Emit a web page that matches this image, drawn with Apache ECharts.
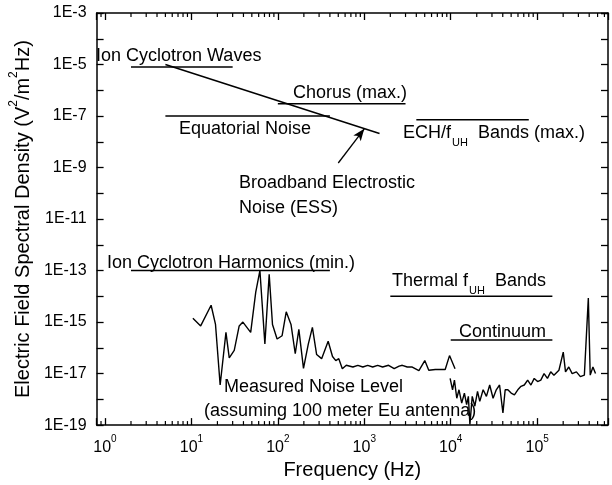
<!DOCTYPE html>
<html><head><meta charset="utf-8">
<script src="https://cdn.jsdelivr.net/npm/echarts@6/dist/echarts.min.js"></script>
<style>html,body{margin:0;padding:0;background:#fff}#c{width:612px;height:485px}</style>
</head><body><div id="c"></div>
<script>
// ---------- data ----------
const xTickExponents = [0, 1, 2, 3, 4, 5];
const yTickLabels = ['1E-3', '1E-5', '1E-7', '1E-9', '1E-11', '1E-13', '1E-15', '1E-17', '1E-19'];

const lowFreq = [10.4,12.8,16.9,19.0,21.5,25.1,27.4,31.3,35.7,39.4,48.5,55.5,62,70.8,79.4,86.7,98,112,125,142,159,175,198,225,251,281,321,382,429,468,507,557,619,738,843,962,1096,1250,1429,1629,1910,2218,2529,2754,3141,3589,4285,5012,5572,6637,8630,9683,11220];
const lowNoise = [1.4e-15,7.1e-16,4.5e-15,8.1e-16,3.6e-18,4.0e-16,4.1e-17,7.9e-17,7.1e-16,1.0e-15,4.0e-16,1.45e-14,1.0e-13,1.4e-16,7.1e-14,8.1e-16,2.2e-16,2.95e-16,2.5e-15,8.1e-16,5.9e-17,5.2e-16,1.6e-17,1.4e-16,6.2e-16,5.5e-17,3.8e-17,1.8e-16,4.6e-17,3.2e-17,3.8e-17,1.55e-17,2.1e-17,1.8e-17,2.1e-17,1.8e-17,2.1e-17,1.8e-17,2.1e-17,1.8e-17,2.1e-17,1.55e-17,1.95e-17,2.1e-17,1.8e-17,1.8e-17,1.3e-17,3.2e-17,1.35e-17,1.45e-17,1.45e-17,5.0e-17,1.55e-17];

const highFreq = [9840,10500,11040,11750,12470,13400,14390,15280,16000,16670,17740,19010,20420,21680,23710,25880,28250,30900,33650,36730,40180,42660,45810,50000,54580,59700,65010,70960,77620,84720,92470,101200,110200,120200,131500,143500,156300,178600,200400,212800,232300,254100,284400,316200,351600,370700,390800,411100,441600,473200];
const highNoise = [6.5e-18,2.35e-18,5.6e-18,1.1e-18,2.35e-18,7.2e-19,1.75e-18,6.2e-19,1.3e-18,1.07e-19,1.3e-18,5.4e-19,2.05e-18,8.3e-19,2.35e-18,1.3e-18,3.6e-18,1.1e-18,2.35e-18,3.6e-18,3.0e-19,2.35e-18,2.35e-18,1.75e-18,1.5e-18,2.35e-18,3.2e-18,3.6e-18,5.6e-18,3.6e-18,6.5e-18,4.9e-18,5.6e-18,1.0e-17,6.5e-18,1.17e-17,8.7e-18,1.35e-17,6.8e-17,1.17e-17,1.8e-17,1.0e-17,1.17e-17,7.6e-18,8.7e-18,8.7e-18,8.5e-15,8.7e-18,1.8e-17,1.0e-17];

// wave-band ranges (frequency start, end, spectral level)
const bandNames = ['Ion Cyclotron Waves', 'Chorus (max.)', 'Equatorial Noise', 'ECH/fUH Bands (max.)', 'Ion Cyclotron Harmonics (min.)', 'Thermal fUH Bands', 'Continuum'];
const bandStart = [2, 100, 5, 4000, 2, 2000, 10000];
const bandEnd = [30, 3000, 400, 80000, 400, 150000, 150000];
const bandLevel = [8e-6, 3e-7, 1e-7, 7.2e-8, 1e-13, 1e-14, 2e-16];

// broadband electrostatic noise line
const essFreq = [5, 1500];
const essLevel = [1e-5, 2.1e-8];
// arrow pointing at ESS
const arrowFreq = [500, 1000];
const arrowLevel = [1.5e-9, 3.2e-8];

// ---------- layout / style ----------
const FONT = "'Liberation Sans', Arial, Helvetica, sans-serif";
const xMin = 0.8, xMax = 6.6e5, yMin = 1e-19, yMax = 1e-3;
const BLACK = '#000';

const textLayout = [
  { text: '{n|Ion Cyclotron Waves}', x: 96, y: 47 },
  { text: '{n|Chorus (max.)}', x: 293, y: 84 },
  { text: '{n|Equatorial Noise}', x: 179, y: 120 },
  { text: '{n|ECH/f}{sub|UH}{n|  Bands (max.)}', x: 403, y: 124 },
  { text: '{n|Broadband Electrostic}', x: 239, y: 174 },
  { text: '{n|Noise (ESS)}', x: 239, y: 199 },
  { text: '{n|Ion Cyclotron Harmonics (min.)}', x: 107, y: 254 },
  { text: '{n|Thermal f}{sub|UH}{n|  Bands}', x: 392, y: 272 },
  { text: '{n|Continuum}', x: 459, y: 323 },
  { text: '{n|Measured Noise Level}', x: 224, y: 378 },
  { text: '{n|(assuming 100 meter Eu antenna)}', x: 204, y: 402 }
];
const annRich = {
  n: { fontFamily: FONT, fontSize: 18, fill: BLACK, verticalAlign: 'top' },
  sub: { fontFamily: FONT, fontSize: 11, fill: BLACK, verticalAlign: 'top', padding: [13, 0, 0, 1] }
};

// minor tick values (2..9 x decade) for the log frequency axis
const minorTickValues = [];
for (let e = -1; e <= 5; e++) {
  for (let m = 2; m <= 9; m++) {
    const v = m * Math.pow(10, e);
    if (v > xMin && v < xMax) minorTickValues.push(v);
  }
}

function isDecade(v) {
  const l = Math.log10(v);
  return Math.abs(l - Math.round(l)) < 1e-6;
}

const axisBase = {
  type: 'log', logBase: 10,
  axisLine: { show: true, onZero: false, lineStyle: { color: BLACK, width: 1.5 } },
  axisTick: { show: true, inside: true, length: 7, lineStyle: { color: BLACK, width: 1.3 } },
  splitLine: { show: false },
  minorTick: { show: false },
  minorSplitLine: { show: false }
};

const chart = echarts.init(document.getElementById('c'), null, { renderer: 'canvas' });

const bandSeries = bandNames.map((name, i) => ({
  type: 'line', name: name, xAxisIndex: 0, yAxisIndex: 0,
  data: [[bandStart[i], bandLevel[i]], [bandEnd[i], bandLevel[i]]],
  symbol: 'none', silent: true, animation: false,
  lineStyle: { color: BLACK, width: 1.5 }
}));

const option = {
  backgroundColor: '#fff',
  animation: false,
  grid: { left: 91, top: 13, width: 517, height: 419.5, containLabel: false },
  xAxis: [
    Object.assign({}, axisBase, {
      min: xMin, max: xMax, position: 'bottom',
      name: 'Frequency (Hz)', nameLocation: 'middle', nameGap: 31,
      nameTextStyle: { fontFamily: FONT, fontSize: 20, color: BLACK },
      axisLabel: {
        margin: 9, hideOverlap: false,
        formatter: function (v) {
          if (!isDecade(v)) return '';
          const e = Math.round(Math.log10(v));
          if (xTickExponents.indexOf(e) < 0) return '';
          return '{n|10}{s|' + e + '}';
        },
        rich: {
          n: { fontFamily: FONT, fontSize: 16, color: BLACK, verticalAlign: 'top', padding: [5, 0, 0, 0] },
          s: { fontFamily: FONT, fontSize: 10, color: BLACK, verticalAlign: 'top' }
        }
      }
    }),
    Object.assign({}, axisBase, { min: xMin, max: xMax, position: 'top', axisLabel: { show: false } })
  ],
  yAxis: [
    Object.assign({}, axisBase, {
      min: yMin, max: yMax, position: 'left', interval: 1, splitNumber: 16,
      name: '{n|Electric Field Spectral Density (V}{s|2}{n|/m}{s|2}{n|Hz)}',
      nameLocation: 'middle', nameGap: 55, nameRotate: 90,
      nameTextStyle: {
        fontFamily: FONT, fontSize: 20, color: BLACK,
        rich: {
          n: { fontFamily: FONT, fontSize: 20, color: BLACK, verticalAlign: 'top', padding: [5, 0, 0, 0] },
          s: { fontFamily: FONT, fontSize: 12, color: BLACK, verticalAlign: 'top' }
        }
      },
      axisLabel: {
        margin: 10, fontFamily: FONT, fontSize: 16, color: BLACK, hideOverlap: false,
        formatter: function (v) {
          if (!isDecade(v)) return '';
          const s = '1E' + Math.round(Math.log10(v));
          return yTickLabels.indexOf(s) >= 0 ? s : '';
        }
      }
    }),
    Object.assign({}, axisBase, { min: yMin, max: yMax, position: 'right', interval: 1, splitNumber: 16, axisLabel: { show: false } })
  ],
  series: [
    {
      type: 'line', name: 'Measured noise (low)', xAxisIndex: 0, yAxisIndex: 0,
      data: lowFreq.map((f, i) => [f, lowNoise[i]]),
      symbol: 'none', animation: false, lineStyle: { color: BLACK, width: 1.4 }
    },
    {
      type: 'line', name: 'Measured noise (high)', xAxisIndex: 0, yAxisIndex: 0,
      data: highFreq.map((f, i) => [f, highNoise[i]]),
      symbol: 'none', animation: false, lineStyle: { color: BLACK, width: 1.4 }
    },
    {
      type: 'line', name: 'ESS', xAxisIndex: 0, yAxisIndex: 0,
      data: essFreq.map((f, i) => [f, essLevel[i]]),
      symbol: 'none', animation: false, lineStyle: { color: BLACK, width: 1.5 },
      markLine: {
        silent: true, animation: false,
        symbol: ['none', 'arrow'], symbolSize: [7, 12],
        label: { show: false },
        lineStyle: { color: BLACK, width: 1.3, type: 'solid' },
        data: [[{ coord: [arrowFreq[0], arrowLevel[0]] }, { coord: [arrowFreq[1], arrowLevel[1]] }]]
      }
    },
    {
      type: 'custom', name: 'minor ticks', xAxisIndex: 0, yAxisIndex: 0,
      silent: true, animation: false, clip: false,
      data: minorTickValues.map(v => [v, yMin]),
      renderItem: function (params, api) {
        const v = api.value(0);
        const b = api.coord([v, yMin]);
        const t = api.coord([v, yMax]);
        const st = { stroke: BLACK, lineWidth: 1.2 };
        return {
          type: 'group', children: [
            { type: 'line', shape: { x1: b[0], y1: b[1], x2: b[0], y2: b[1] - 4 }, style: st },
            { type: 'line', shape: { x1: t[0], y1: t[1], x2: t[0], y2: t[1] + 4 }, style: st }
          ]
        };
      }
    }
  ].concat(bandSeries),
  graphic: textLayout.map(t => ({
    type: 'text', x: t.x, y: t.y, silent: true,
    style: { text: t.text, rich: annRich, fontFamily: FONT, fontSize: 18, fill: BLACK, align: 'left', verticalAlign: 'top' }
  }))
};
chart.setOption(option);
</script>
</body></html>
